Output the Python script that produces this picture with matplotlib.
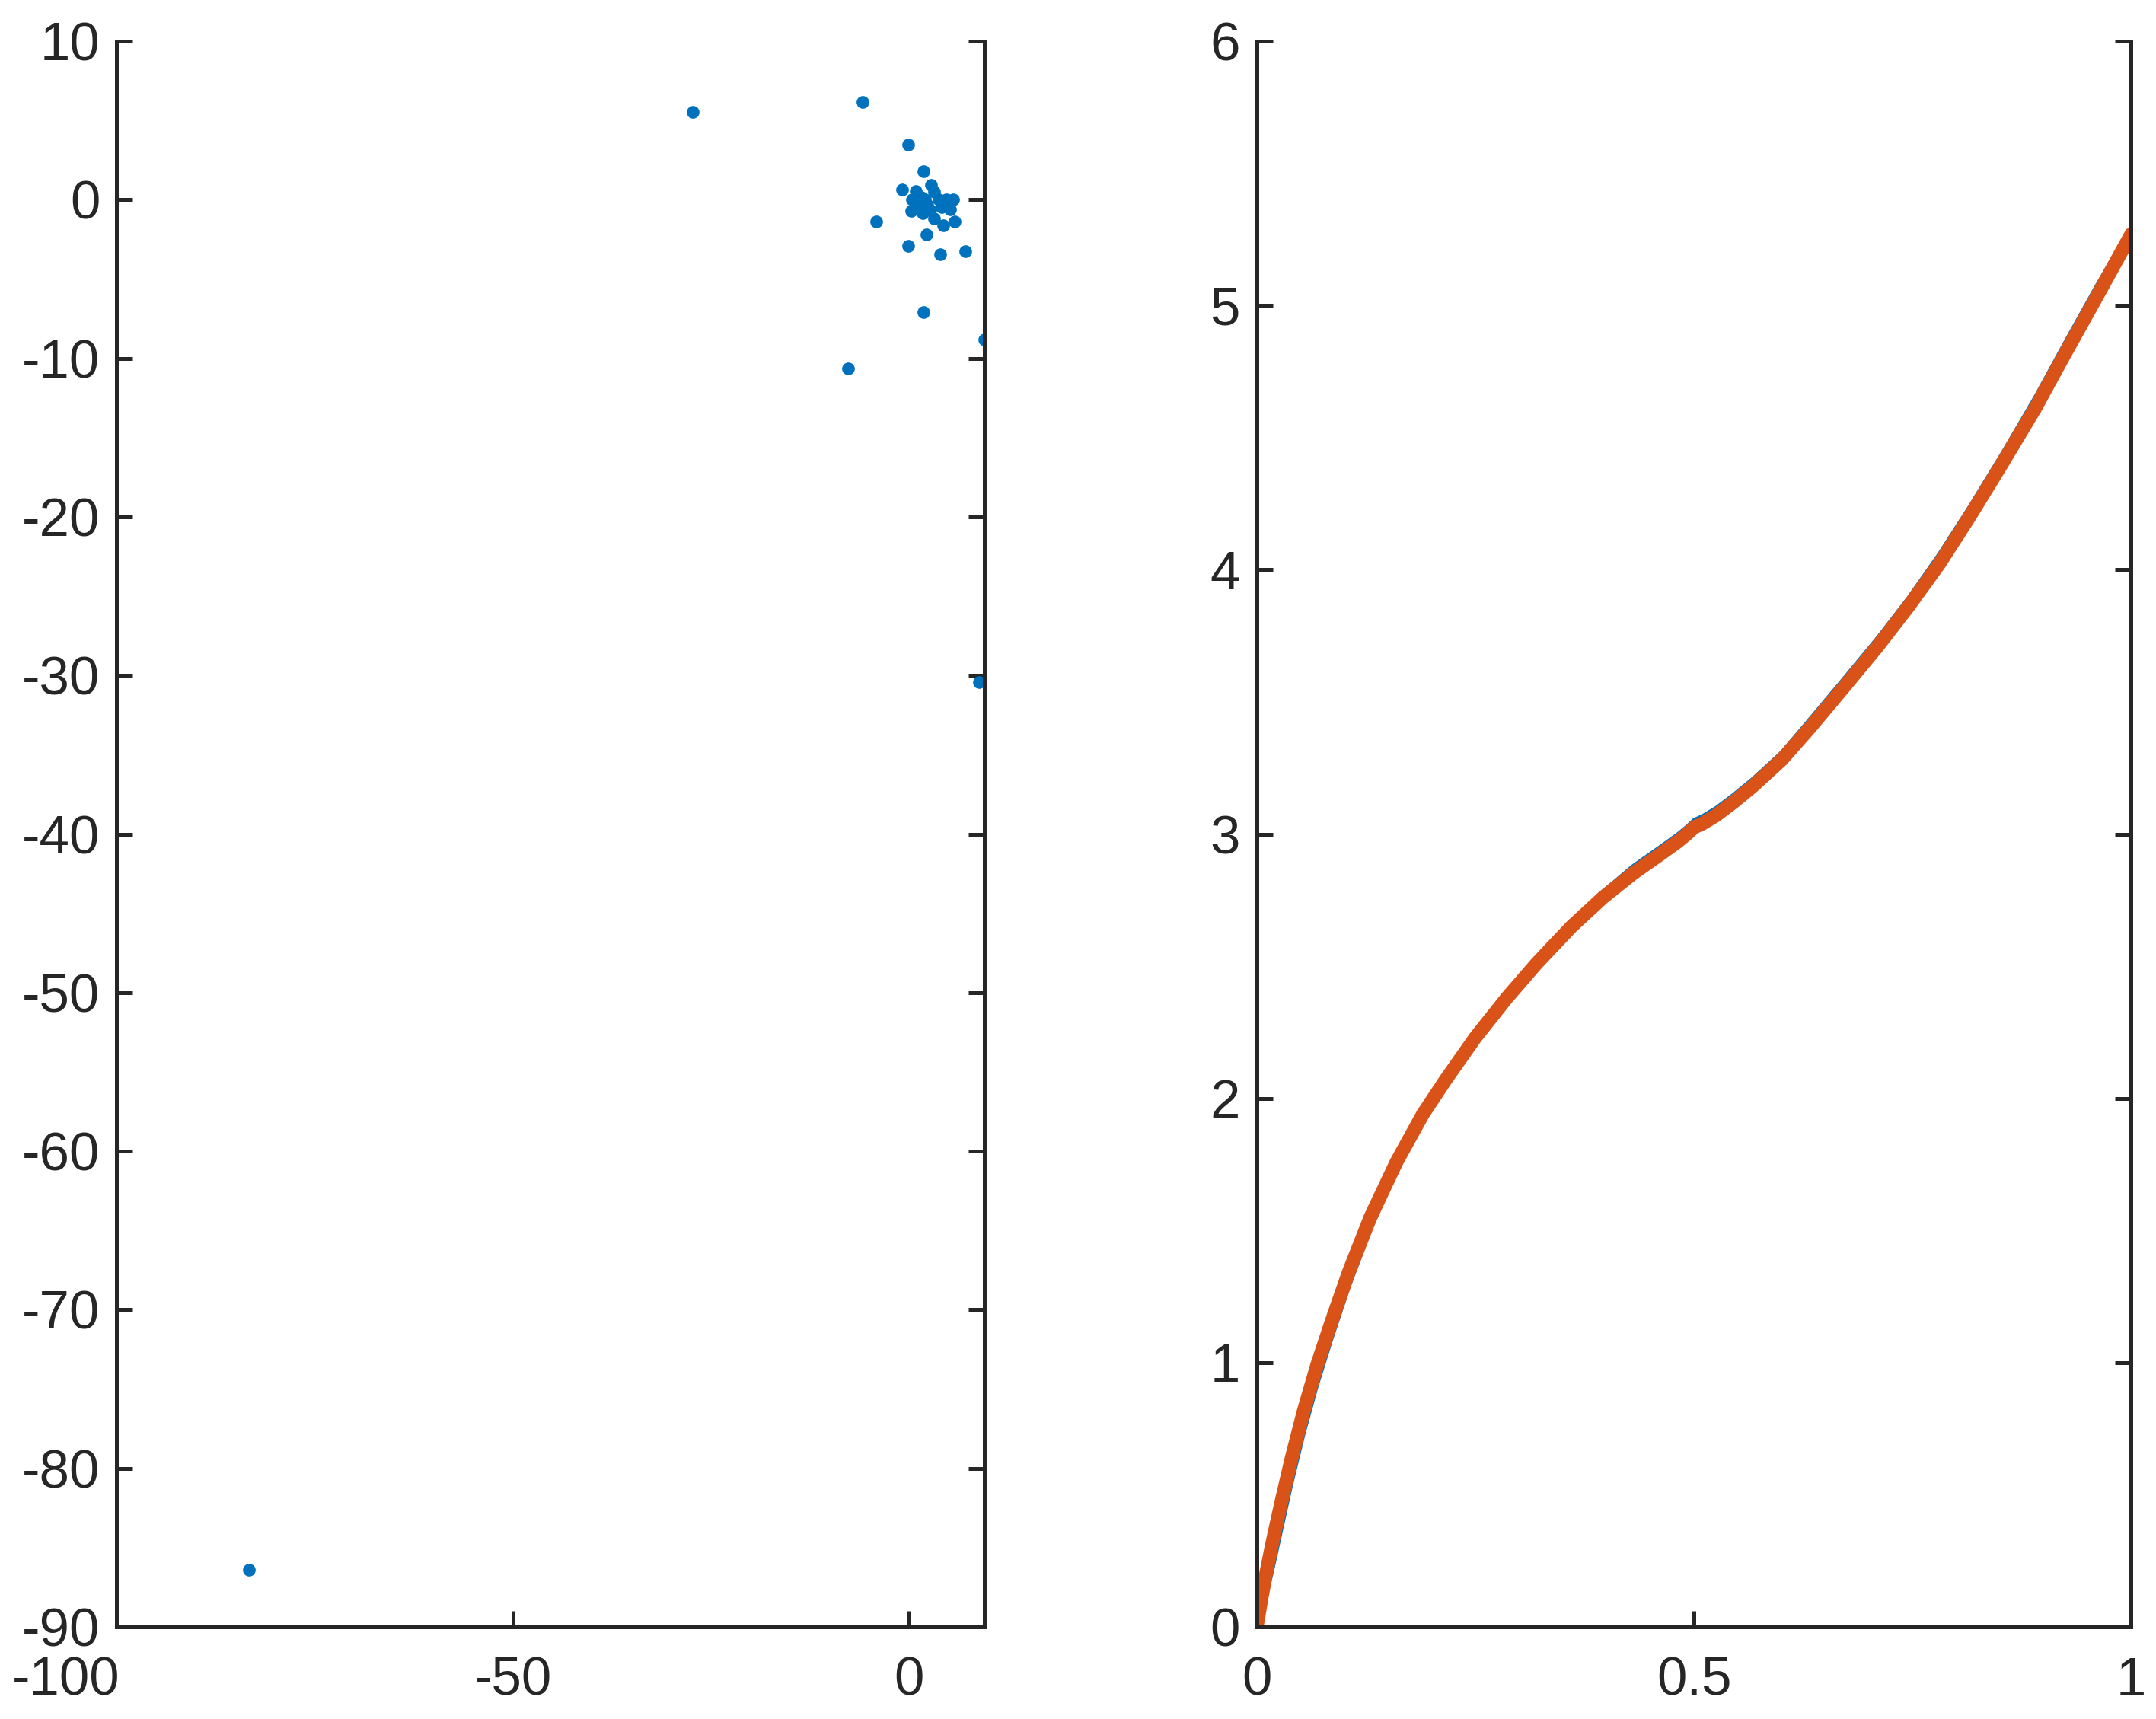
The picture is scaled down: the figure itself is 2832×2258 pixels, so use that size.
import matplotlib
matplotlib.use('Agg')
import matplotlib.pyplot as plt
from matplotlib.transforms import ScaledTranslation

# left panel: scattered points
pts_x = [-83.3, -27.26, -5.82, -0.05, 1.88, -0.85, 2.78, 0.85, 0.43, 1.56, 3.16, 3.8,
         5.57, 4.76, 5.24, 0.28, 1.72, 3.16, 4.38, 5.79, -4.15, 2.2, -0.1, 3.96, 7.17,
         2.36, 4.12, 1.08, 2.68, 4.92, 2.04, 1.82, 9.57, -7.64, 8.84]
pts_y = [-86.4, 5.56, 6.17, 3.48, 1.81, 0.67, 0.93, 0.56, 0.0, 0.16, 0.48, 0.0,
         0.03, 0.03, -0.61, -0.72, -0.83, -1.2, -1.6, -1.39, -1.37, -2.21, -2.9, -3.43, -3.24,
         -0.32, -0.48, -0.32, -0.64, -0.24, 0.0, -7.08, -8.83, -10.64, -30.4]

# right panel: two curves
curve_x = [0, 0.005, 0.01, 0.018, 0.028, 0.04, 0.054, 0.069, 0.085, 0.105, 0.13, 0.16,
           0.19, 0.216, 0.25, 0.286, 0.32, 0.36, 0.396, 0.43, 0.46, 0.481, 0.492, 0.5,
           0.51, 0.525, 0.545, 0.567, 0.6, 0.632, 0.67, 0.71, 0.745, 0.78, 0.815, 0.852,
           0.89, 0.923, 0.96, 1.0]
orange_y = [0, 0.10, 0.19, 0.32, 0.47, 0.64, 0.82, 0.99, 1.15, 1.34, 1.55, 1.76,
            1.94, 2.07, 2.23, 2.38, 2.51, 2.65, 2.76, 2.85, 2.92, 2.97, 3.0, 3.025,
            3.04, 3.07, 3.12, 3.18, 3.28, 3.40, 3.55, 3.71, 3.86, 4.02, 4.20, 4.40,
            4.61, 4.81, 5.03, 5.27]
blue_y = [0, 0.03, 0.10, 0.21, 0.36, 0.54, 0.73, 0.91, 1.08, 1.28, 1.50, 1.72,
          1.91, 2.05, 2.22, 2.38, 2.52, 2.67, 2.785, 2.88, 2.95, 3.0, 3.03, 3.055,
          3.07, 3.10, 3.15, 3.21, 3.31, 3.435, 3.585, 3.745, 3.895, 4.06, 4.24, 4.44,
          4.655, 4.855, 5.075, 5.30]

blue = '#0072BD'
orange = '#D95319'
dark = '#262626'

plt.rcParams['font.family'] = ['Liberation Sans', 'DejaVu Sans']
plt.rcParams['axes.unicode_minus'] = False

fig = plt.figure(figsize=(14.16, 11.29), dpi=200)
ax1 = fig.add_axes([0.0542, 0.0536, 0.4024, 0.9224])
ax2 = fig.add_axes([0.5829, 0.0536, 0.4056, 0.9224])

ax1.plot(pts_x, pts_y, 'o', color=blue, ms=6, mew=0)
ax1.set_xlim(-100, 9.55)
ax1.set_ylim(-90, 10)
ax1.set_xticks([-100, -50, 0])
ax1.set_yticks(range(-90, 11, 10))

ax2.plot(curve_x, blue_y, color=blue, lw=1.4)
ax2.plot(curve_x, orange_y, color=orange, lw=6.5, solid_capstyle='round')
ax2.set_xlim(0, 1)
ax2.set_ylim(0, 6)
ax2.set_xticks([0, 0.5, 1])
ax2.set_xticklabels(['0', '0.5', '1'])
ax2.set_yticks(range(0, 7))

for ax in (ax1, ax2):
    ax.spines['top'].set_visible(False)
    for s in ('left', 'right', 'bottom'):
        ax.spines[s].set_linewidth(1.8)
        ax.spines[s].set_color(dark)
    ax.tick_params(direction='in', length=7.5, width=1.8, color=dark,
                   labelcolor=dark, labelsize=25.5, right=True)
    ax.tick_params(axis='x', pad=14)
    ax.tick_params(axis='y', pad=8)

# first x label sits further left in the original
lab = ax1.get_xticklabels()[0]
lab.set_transform(lab.get_transform() + ScaledTranslation(-24 / 72, 0, fig.dpi_scale_trans))

fig.savefig('out.png', dpi=200)
